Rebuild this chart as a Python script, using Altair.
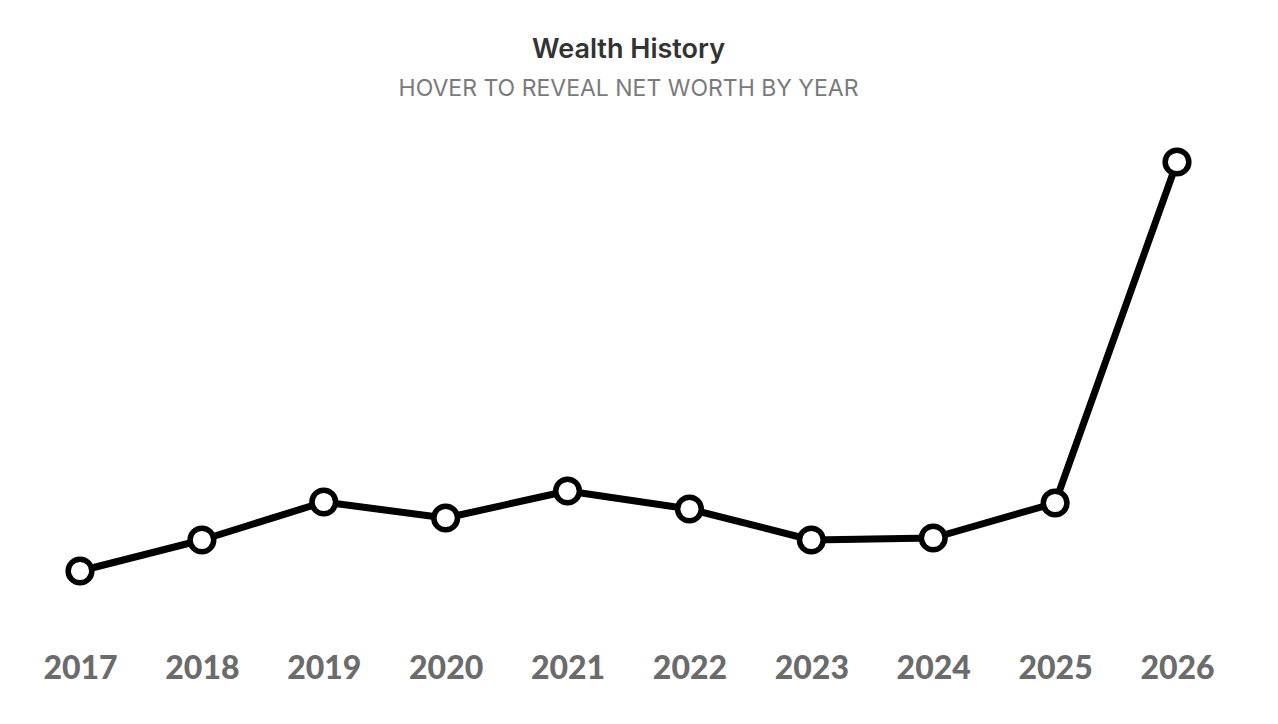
import altair as alt
import pandas as pd

years = ["2017", "2018", "2019", "2020", "2021", "2022", "2023", "2024", "2025", "2026"]
net_worth = [98, 160, 236, 204, 258, 222, 160, 164, 234, 916]

df = pd.DataFrame({"year": years, "net_worth": net_worth})

x = alt.X("year:O", sort=years, title=None,
          scale=alt.Scale(type="point", padding=0),
          axis=alt.Axis(labelAngle=0, domain=False, ticks=False, grid=False,
                        labelFont="Lato", labelFontWeight=900, labelFontSize=32,
                        labelColor="#6b6b6b", labelPadding=33))
y = alt.Y("net_worth:Q", title=None, scale=alt.Scale(domain=[0, 1000], nice=False, zero=True),
          axis=None)

base = alt.Chart(df).encode(x=x, y=y)
line = base.mark_line(color="black", strokeWidth=7, strokeJoin="round")
pts = base.mark_point(filled=True, fill="white", stroke="black", strokeWidth=5.5,
                      size=560, opacity=1, shape="circle")

chart = (line + pts).properties(
    width=1097, height=500,
    autosize=alt.AutoSizeParams(type="none"),
    padding={"left": 72, "right": 93, "top": 112, "bottom": 100},
    title=alt.TitleParams(
        text="Wealth History",
        subtitle="HOVER TO REVEAL NET WORTH BY YEAR",
        anchor="middle", font="Inter", fontSize=27, fontWeight=600, color="#333333",
        subtitleFont="Inter", subtitleFontSize=23, subtitleFontWeight=400,
        subtitleColor="#7a7a7a", subtitlePadding=14, offset=18,
    ),
).configure_view(stroke=None)

chart.save("out.html", embed_options={"renderer": "svg", "actions": False})
